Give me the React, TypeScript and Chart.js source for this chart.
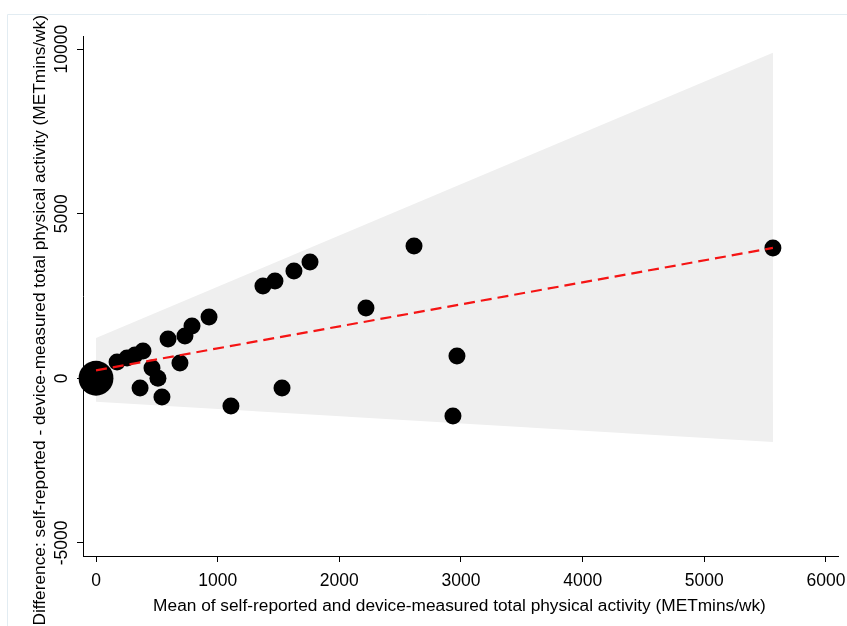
import React, { useEffect, useRef } from "react";
import { Chart, registerables } from "chart.js";

Chart.register(...registerables);

// Data
const meanPA = [0, 173, 255, 320, 386, 362, 460, 509, 542, 592, 690, 731, 789, 929, 1109, 1372, 1471, 1529, 1627, 1759, 2219, 2614, 2934, 2967, 5564];
const diffPA = [0, 495, 617, 708, 830, -295, 313, 0, -568, 1195, 465, 1286, 1590, 1863, -841, 2805, 2957, -295, 3261, 3535, 2137, 4021, -1145, 678, 3960];
const freq = [4.2, 1, 1, 1, 1, 1, 1, 1, 1, 1, 1, 1, 1, 1, 1, 1, 1, 1, 1, 1, 1, 1, 1, 1, 1];

const limitX = [0, 5564];
const upperLimit = [1225, 9888];
const lowerLimit = [-715, -1937];
const meanDiffLine = [240, 3960];

const xTicks = [0, 1000, 2000, 3000, 4000, 5000, 6000];
const yTicks = [-5000, 0, 5000, 10000];

const xTitle = "Mean of self-reported and device-measured total physical activity (METmins/wk)";
const yTitle = "Difference: self-reported - device-measured total physical activity (METmins/wk)";

const FONT = '"Liberation Sans", Arial, sans-serif';

const textPlugin = {
  id: "stataText",
  beforeDraw(chart: any) {
    const ctx = chart.ctx;
    ctx.save();
    ctx.fillStyle = "#ffffff";
    ctx.fillRect(0, 0, chart.width, chart.height);
    ctx.strokeStyle = "rgb(226,236,242)";
    ctx.lineWidth = 1;
    ctx.beginPath();
    ctx.moveTo(7.5, 626);
    ctx.lineTo(7.5, 14.5);
    ctx.lineTo(847, 14.5);
    ctx.stroke();
    ctx.restore();
  },
  afterDraw(chart: any) {
    const ctx = chart.ctx;
    const xs = chart.scales.x;
    const ys = chart.scales.y;
    ctx.save();
    ctx.fillStyle = "#000";
    ctx.font = `17.5px ${FONT}`;
    ctx.textAlign = "center";
    ctx.textBaseline = "alphabetic";
    xTicks.forEach((v) => {
      ctx.fillText(String(v), xs.getPixelForValue(v), 586);
    });
    yTicks.forEach((v) => {
      ctx.save();
      ctx.translate(67, ys.getPixelForValue(v));
      ctx.rotate(-Math.PI / 2);
      ctx.fillText(String(v), 0, 0);
      ctx.restore();
    });
    ctx.font = `17.3px ${FONT}`;
    ctx.fillText(xTitle, (chart.chartArea.left + chart.chartArea.right) / 2 - 1, 611);
    ctx.save();
    ctx.translate(45, 15);
    ctx.rotate(-Math.PI / 2);
    ctx.textAlign = "right";
    ctx.fillText(yTitle, 0, 0);
    ctx.restore();
    ctx.restore();
  },
};

export default function App() {
  const ref = useRef<HTMLCanvasElement | null>(null);
  useEffect(() => {
    if (!ref.current) return;
    const chart = new Chart(ref.current, {
      type: "scatter",
      data: {
        datasets: [
          {
            type: "line",
            label: "upper",
            data: limitX.map((x, i) => ({ x, y: upperLimit[i] })),
            borderWidth: 0,
            borderColor: "rgba(0,0,0,0)",
            pointRadius: 0,
            backgroundColor: "rgb(239,239,239)",
            fill: "+1",
            order: 3,
          } as any,
          {
            type: "line",
            label: "lower",
            data: limitX.map((x, i) => ({ x, y: lowerLimit[i] })),
            borderWidth: 0,
            borderColor: "rgba(0,0,0,0)",
            pointRadius: 0,
            fill: false,
            order: 3,
          } as any,
          {
            type: "scatter",
            label: "obs",
            data: meanPA.map((x, i) => ({ x, y: diffPA[i] })),
            pointRadius: freq.map((f) => 8.5 * Math.sqrt(f)),
            pointHoverRadius: freq.map((f) => 8.5 * Math.sqrt(f)),
            backgroundColor: "#000",
            borderWidth: 0,
            clip: false,
            order: 2,
          } as any,
          {
            type: "line",
            label: "fit",
            data: limitX.map((x, i) => ({ x, y: meanDiffLine[i] })),
            borderColor: "rgb(245,20,20)",
            borderWidth: 2.2,
            borderDash: [11, 6],
            pointRadius: 0,
            fill: false,
            order: 1,
          } as any,
        ],
      },
      options: {
        responsive: false,
        animation: false,
        layout: { autoPadding: false, padding: { left: 77, top: 36, right: 9, bottom: 64 } },
        plugins: { legend: { display: false }, tooltip: { enabled: false } },
        scales: {
          x: {
            type: "linear",
            min: -107,
            max: 6099,
            afterBuildTicks: (s: any) => {
              s.ticks = xTicks.map((v) => ({ value: v }));
            },
            ticks: { display: false },
            grid: { display: true, drawOnChartArea: false, drawTicks: true, tickLength: 6, color: "#000", lineWidth: 1 },
            border: { display: true, color: "#000", width: 1 },
          },
          y: {
            type: "linear",
            min: -5400,
            max: 10400,
            afterBuildTicks: (s: any) => {
              s.ticks = yTicks.map((v) => ({ value: v }));
            },
            ticks: { display: false },
            grid: { display: true, drawOnChartArea: false, drawTicks: true, tickLength: 6, color: "#000", lineWidth: 1 },
            border: { display: true, color: "#000", width: 1 },
          },
        },
      },
      plugins: [textPlugin],
    });
    return () => chart.destroy();
  }, []);
  return (
    <div style={{ position: "absolute", left: 0, top: 0, width: 847, height: 626 }}>
      <canvas ref={ref} width={847} height={626} style={{ width: 847, height: 626, display: "block" }} />
    </div>
  );
}
